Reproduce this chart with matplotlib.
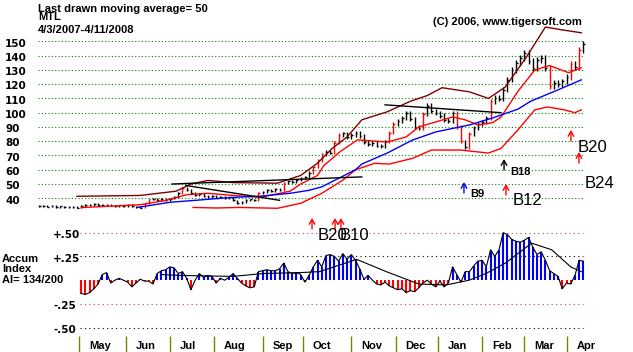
import numpy as np
import matplotlib.pyplot as plt

# ---- layout of the original 633x352 picture (pixels) ----
W, H = 633, 352
X0, DX = 39.0, 2.11        # x pixel of trading day 0, pixels per day
PY0, PDY = 198.3, 1.427    # y pixel of price 40, pixels per dollar
AY0, ADY = 280.2, 95.0     # y pixel of AI = 0, pixels per 1.0

# ---- data (trading day index, 4/3/2007 = day 0) ----
close_days = np.arange(0, 259, 2)
closes = [34.5, 34.8, 34.2, 34.6, 34.0, 34.3, 33.8, 33.6, 34.0, 33.4,
          34.5, 35.6, 35.2, 36.0, 35.4, 35.0, 35.6, 34.8, 34.4, 35.0,
          34.6, 35.2, 34.4, 33.9, 33.4, 36.5, 39.2, 39.8, 38.9, 39.6,
          39.0, 39.8, 41.0, 43.5, 47.5, 46.0, 43.8, 42.5, 43.0, 41.6,
          40.8, 41.5, 40.5, 40.9, 40.2, 40.6, 38.5, 36.6, 37.5, 38.8,
          39.2, 38.8, 43.5, 44.5, 45.8, 45.2, 46.2, 46.0, 50.5, 52.2,
          51.6, 52.8, 54.2, 55.0, 58.0, 62.0, 66.5, 71.0, 72.5, 71.8,
          79.0, 84.5, 85.5, 83.0, 84.5, 86.0, 83.5, 79.5, 78.0, 79.0,
          77.0, 76.5, 80.0, 86.0, 92.0, 94.5, 96.0, 100.0, 95.5, 90.0,
          89.0, 99.0, 105.0, 101.0, 100.0, 98.0, 95.0, 94.5, 99.5, 90.0,
          80.0, 76.0, 85.0, 89.5, 92.0, 93.5, 96.0, 108.0, 110.5, 109.5,
          116.0, 123.0, 130.0, 135.0, 138.5, 141.5, 136.0, 131.0, 137.0, 138.5,
          131.0, 118.5, 121.0, 120.0, 122.0, 125.0, 134.0, 132.0, 144.0, 148.0]

# 50-day moving average (blue)
ma50_days = [47, 62, 76, 90, 105, 119, 128, 134, 142, 150, 153, 165, 177, 188, 204, 215, 227, 233, 246, 257]
ma50_vals = [33.7, 37.2, 38.8, 40.5, 41.5, 43.5, 45.6, 48, 54, 60, 64, 71.7, 80.8, 86.5, 91.4, 96.3, 102.5, 108, 116, 123]

# shorter average (red)
mid_days = [20, 48, 60, 70, 80, 92, 105, 119, 124, 132, 135, 143, 151, 165, 174, 180, 196, 202, 208, 215, 219, 227, 235, 242, 251, 257]
mid_vals = [33.5, 35.5, 38.5, 42.5, 43.5, 42, 40.7, 45, 50, 56, 63, 73, 81, 79.4, 83, 90, 97, 95, 91.4, 93, 97, 115, 130, 133, 128, 131.5]

# upper band (dark red)
up_days = [18, 48, 65, 72, 80, 92, 113, 124, 132, 139, 146, 153, 165, 176, 184, 191, 204, 213, 221, 231, 240, 248, 257]
up_vals = [41.4, 42, 45, 50, 52.5, 51, 50.6, 56, 64.6, 75, 83, 95, 100.6, 108, 112, 117.5, 114.6, 110, 118, 139, 160, 158, 156]

# lower band (red)
lo_days = [73, 84, 95, 113, 124, 134, 144, 150, 159, 166, 177, 186, 200, 213, 219, 227, 235, 241, 249, 254, 257]
lo_vals = [33.6, 33.2, 33.6, 33.0, 36.5, 43.5, 52.7, 60, 64.5, 64.0, 68, 73.8, 73.8, 71.7, 75, 88, 102, 104, 102, 100, 102]

# black trend lines
trend_days = [[69.6, 114], [63, 153], [164, 219]]
trend_vals = [[49, 38.6], [50, 55], [105.5, 100]]

# buy signals
sig_days = [129.4, 140.3, 143.1, 201.4, 220.4, 221.3, 252.1, 255.9]
sig_tips = [26.2, 26.2, 26.2, 51.4, 67.5, 50.0, 87.9, 72.4]
sig_colors = ['red', 'red', 'red', 'blue', 'black', 'red', 'red', 'red']

# accumulation index
ai_days = np.arange(20, 259, 2)
ai_vals = [-0.14, -0.15, -0.13, -0.09, -0.04, 0.06, 0.08, -0.03, 0.00, 0.02,
           0.00, -0.02, -0.07, -0.03, 0.01, -0.01, -0.01, -0.04, 0.07, 0.10,
           0.11, 0.14, 0.13, 0.07, 0.09, 0.02, -0.10, 0.00, 0.07, 0.03,
           0.05, 0.04, -0.03, 0.02, 0.00, 0.03, 0.07, 0.02, -0.03, -0.06,
           -0.08, -0.07, 0.09, 0.10, 0.11, 0.10, 0.10, 0.12, 0.18, 0.09,
           0.07, 0.08, 0.06, -0.02, 0.05, 0.14, 0.21, 0.14, 0.26, 0.27,
           0.25, 0.20, 0.28, 0.22, 0.27, 0.21, 0.12, 0.01, 0.05, 0.00,
           -0.04, -0.05, -0.02, -0.06, -0.08, -0.10, -0.09, -0.13, -0.11, -0.12,
           -0.08, -0.03, 0.00, -0.04, -0.07, -0.01, -0.07, -0.03, 0.14, 0.06,
           -0.02, 0.09, 0.09, 0.15, 0.20, 0.21, 0.14, 0.32, 0.25, 0.32,
           0.50, 0.48, 0.43, 0.41, 0.40, 0.42, 0.45, 0.35, 0.27, 0.30,
           0.21, 0.10, 0.07, 0.04, -0.09, -0.03, -0.04, 0.05, 0.21, 0.20]
ai_ma_days = [57.5, 67, 92, 106, 123.6, 133, 150.5, 164.6, 180, 193, 203.8, 211.8, 221, 233.5, 243, 252, 257]
ai_ma_vals = [0.06, 0.05, 0.04, 0.07, 0.08, 0.09, 0.22, 0.09, -0.04, -0.05, 0.0, 0.07, 0.18, 0.39, 0.32, 0.14, 0.09]

price_levels = [40, 50, 60, 70, 80, 90, 100, 110, 120, 130, 140, 150]
ai_levels = [0.5, 0.25, -0.25, -0.5]
ai_labels = ['+.50', '+.25', '-.25', '-.50']
months = ['May', 'Jun', 'Jul', 'Aug', 'Sep', 'Oct', 'Nov', 'Dec', 'Jan', 'Feb', 'Mar', 'Apr']
month_start = [19, 41, 62, 83, 106, 125, 148, 169, 189, 210, 230, 250]

TXT = dict(family='Liberation Sans', fontweight='bold', fontsize=8)
NUM = dict(family='DejaVu Sans', fontweight='bold', fontsize=7.5)


def px(x, y):
    return x / W, 1 - y / H


fig = plt.figure(figsize=(W / 100, H / 100), dpi=100)
fig.patch.set_facecolor('white')
xlim = (-X0 / DX, (W - X0) / DX)

ax = fig.add_axes([0, 0, 1, 1])
ax.set_xlim(xlim)
ax.set_ylim(40 - (H - PY0) / PDY, 40 + PY0 / PDY)
ax.axis('off')

ax2 = fig.add_axes([0, 0, 1, 1])
ax2.set_xlim(xlim)
ax2.set_ylim((AY0 - H) / ADY, AY0 / ADY)
ax2.axis('off')
ax2.patch.set_alpha(0)

# ---- price panel ----
ax.hlines(price_levels, -0.5, 257.8, colors='green', linestyles=(0, (1, 2)), lw=0.8)
for p in price_levels:
    ax.text(5 / W, p - 3.7, str(p), transform=ax.get_yaxis_transform(), va='baseline', **NUM)

c = np.array(closes)
prev = np.concatenate([[c[0]], c[:-1]])
bar_cols = np.where(np.abs(c / prev - 1) > 0.065, 'red', 'black')
lo = np.minimum(prev, c) * 0.985
hi = np.maximum(prev, c) * 1.015
ax.vlines(close_days, lo, hi, colors=bar_cols, lw=1)
ax.hlines(c, close_days, close_days + 0.8, colors=bar_cols, lw=1)

ax.plot(up_days, up_vals, color='#800000', lw=1)
ax.plot(mid_days, mid_vals, color='red', lw=1)
ax.plot(lo_days, lo_vals, color='red', lw=1)
ax.plot(ma50_days, ma50_vals, color='blue', lw=1)
for td, tv in zip(trend_days, trend_vals):
    ax.plot(td, tv, color='black', lw=1)

for d, tip, col in zip(sig_days, sig_tips, sig_colors):
    ax.annotate('', xy=(d, tip), xytext=(d, tip - 7.7),
                arrowprops=dict(arrowstyle='->,head_length=0.35,head_width=0.2',
                                color=col, lw=1, shrinkA=0, shrinkB=0))

for s, x, y in [('B20', 318, 240), ('B10', 340, 240), ('B12', 513, 205),
                ('B20', 578, 152), ('B24', 585, 188)]:
    fig.text(*px(x, y), s, family='Liberation Sans', fontsize=12, va='baseline')
for s, x, y in [('B9', 470, 197), ('B18', 510, 175)]:
    fig.text(*px(x, y), s, va='baseline', **TXT)

fig.text(*px(38, 11.5), 'Last drawn moving average= 50', va='baseline', **TXT)
fig.text(*px(38, 20.5), 'MTL', va='baseline', **TXT)
fig.text(*px(38, 33), '4/3/2007-4/11/2008', va='baseline', **TXT)
fig.text(*px(582, 25), '(C) 2006, www.tigersoft.com', ha='right', va='baseline', **TXT)

# ---- accumulation index panel ----
ax2.hlines(ai_levels, 19.4, 257.8, colors=['#d0307a', 'black', '#d0307a', 'black'],
           linestyles=(0, (1, 3)), lw=0.8)
for v, s in zip(ai_levels, ai_labels):
    ax2.text(53 / W, v - 0.056, s, transform=ax2.get_yaxis_transform(), va='baseline', **NUM)

a = np.array(ai_vals)
ax2.vlines(ai_days, 0, a, colors=np.where(a > 0, 'blue', 'red'), lw=1.5)
ax2.plot(ai_days, a, color='black', lw=0.8)
ax2.plot(ai_ma_days, ai_ma_vals, color='black', lw=0.8)

fig.text(*px(2, 262.5), 'Accum', va='baseline', **TXT)
fig.text(*px(2, 272.5), 'Index', va='baseline', **TXT)
fig.text(*px(2, 283), 'AI= 134/200', va='baseline', **TXT)

# ---- month axis ----
ax.vlines(month_start, 0, 1 - 336 / H, transform=ax.get_xaxis_transform(), colors='#808000', lw=1)
for m, d in zip(months, month_start):
    ax.text(d + 4.7, 1 - 349 / H, m, transform=ax.get_xaxis_transform(), va='baseline', **TXT)

fig.savefig('out.png', dpi=100)
